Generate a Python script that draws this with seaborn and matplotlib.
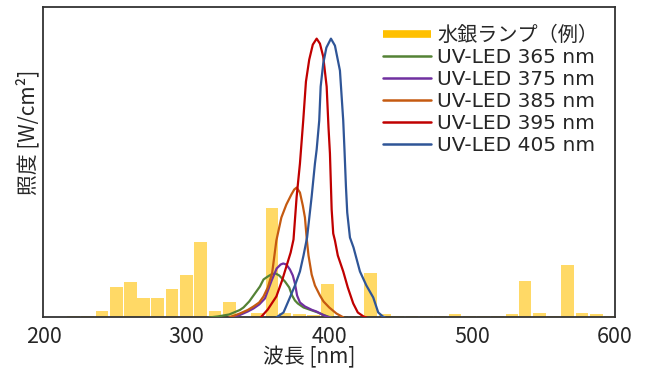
import numpy as np
import pandas as pd
import matplotlib
matplotlib.use("Agg")
import matplotlib.pyplot as plt
import seaborn as sns
from matplotlib.lines import Line2D

# mercury lamp spectrum (bar centres in nm, relative irradiance)
hg_nm = [221, 231, 241, 251, 261, 270, 280, 290, 300, 310,
         320, 330, 340, 350, 360, 369, 379, 389, 399, 409,
         419, 429, 439, 448, 458, 468, 478, 488, 498, 508,
         518, 528, 537, 547, 557, 567, 577, 587, 597]
hg_val = [1.5, 1.5, 6.3, 30, 35, 19, 19, 28, 42, 76,
          6.3, 15.3, 0.8, 4.5, 110, 4.5, 3.5, 2, 33.5, 1.5,
          1.5, 44, 3.5, 1.5, 1.5, 1.5, 1.5, 3.3, 1.3, 1.3,
          1.3, 3.3, 36.5, 4.7, 1.3, 52.5, 4.7, 3.3, 1.7]

# UV-LED spectra
led365_nm = [316, 322, 330, 337.5, 340, 344, 347, 351.5, 354, 357, 360, 362.5,
             365, 369, 372, 374, 376, 378, 382, 388, 392, 396, 400, 402]
led365_val = [0, 1, 3, 7.5, 10, 16, 22, 31, 38, 41, 43.5, 44,
              42, 36, 30, 22, 17, 14, 10, 7, 5, 2.5, 0.5, 0]

led375_nm = [330, 337.5, 343, 347, 351, 355, 359.7, 363.2, 366, 367.8, 370, 372.5,
             374.5, 376, 377.5, 379.5, 383, 388, 391, 395, 399, 401]
led375_val = [0, 2.5, 6, 9, 13, 19, 37, 49, 53, 54, 53, 48,
              42, 34, 22, 15, 11, 7.5, 6, 3, 0.5, 0]

led385_nm = [330, 337.5, 343, 347, 351, 354, 357, 360, 363, 366.5, 370, 373.5,
             375.5, 377.2, 379.5, 381.5, 383, 384.3, 385.5, 387.7, 390, 393.5,
             396, 400, 405, 410]
led385_val = [0, 4, 7.5, 11, 15, 21, 30, 44, 77, 100, 113, 123,
              128, 130, 125, 112, 100, 78, 62, 43, 32, 22,
              16, 10, 4, 0]

led395_nm = [352, 357, 363, 367, 370, 373, 375, 377.2, 379.5, 381.8, 383.7, 386,
             388.5, 391.2, 393.5, 395.8, 398.2, 399.5, 400.5, 401.7, 402.8, 404,
             406, 409.8, 413, 416.8, 420, 424, 426]
led395_val = [0, 8, 21, 37, 51, 65, 78, 121, 154, 197, 236, 258,
              273, 279, 274, 261, 231, 190, 164, 108, 84, 77,
              62, 46, 30, 14, 5, 1, 0]

led405_nm = [363, 368, 372.5, 376, 379.5, 382, 384.5, 387.7, 390, 391.2, 393, 394,
             395.8, 398, 401.2, 404, 407.5, 409.8, 410.7, 411.7, 412.6, 414.5,
             417, 421.5, 426, 430.8, 434.3, 437.5, 439]
led405_val = [0, 5, 20, 32, 46, 62, 80, 121, 154, 168, 197, 231,
              254, 270, 279, 272, 247, 197, 167, 131, 105, 80,
              70, 46, 32, 20, 5, 1, 0]

led_labels = ["UV-LED 365 nm", "UV-LED 375 nm", "UV-LED 385 nm",
              "UV-LED 395 nm", "UV-LED 405 nm"]
led_colors = ["#548235", "#7030A0", "#C55A11", "#C00000", "#2F5597"]
hg_label = "水銀ランプ（例）"
hg_color = "#FFC000"

frames = []
for lab, xs, ys in zip(led_labels,
                       [led365_nm, led375_nm, led385_nm, led395_nm, led405_nm],
                       [led365_val, led375_val, led385_val, led395_val, led405_val]):
    frames.append(pd.DataFrame({"nm": xs, "val": ys, "led": lab}))
df_led = pd.concat(frames, ignore_index=True)

sns.set_style("white")
plt.rcParams["font.family"] = ["Noto Sans CJK JP", "DejaVu Sans"]

fig = plt.figure(figsize=(6.52, 3.70), dpi=100)
ax = fig.add_axes([0.0667, 0.142, 0.8765, 0.840])

ax.bar(hg_nm, hg_val, width=8.9, color=hg_color, alpha=0.6, linewidth=0, zorder=1)
sns.lineplot(data=df_led, x="nm", y="val", hue="led", palette=led_colors,
             linewidth=1.6, legend=False, ax=ax, zorder=3)

ax.set_xlim(200, 600)
ax.set_ylim(0, 311)
ax.set_xticks([200, 300, 400, 500, 600])
ax.set_yticks([])
ax.tick_params(axis="x", length=0, pad=6, labelsize=15.5, colors="#262626")
for sp in ax.spines.values():
    sp.set_visible(True)
    sp.set_color("#333333")
    sp.set_linewidth(1.3)

ax.set_xlabel("波長 [nm]", fontsize=15, color="#262626")
ax.xaxis.set_label_coords(0.4646, -0.092)
ax.set_ylabel("照度 [W/cm²]", fontsize=15, color="#262626")
ax.yaxis.set_label_coords(-0.008, 0.597)

handles = [Line2D([], [], color=hg_color, lw=5.5, solid_capstyle="butt")]
handles += [Line2D([], [], color=c, lw=1.8) for c in led_colors]
ax.legend(handles, [hg_label] + led_labels, loc="upper left",
          bbox_to_anchor=(0.594, 0.94), frameon=False, borderpad=0,
          borderaxespad=0, handlelength=2.39, handletextpad=0.3,
          labelspacing=0.15,
          prop={"family": ["DejaVu Sans", "Noto Sans CJK JP"], "size": 14.5})

fig.savefig("out.png", dpi=100)
